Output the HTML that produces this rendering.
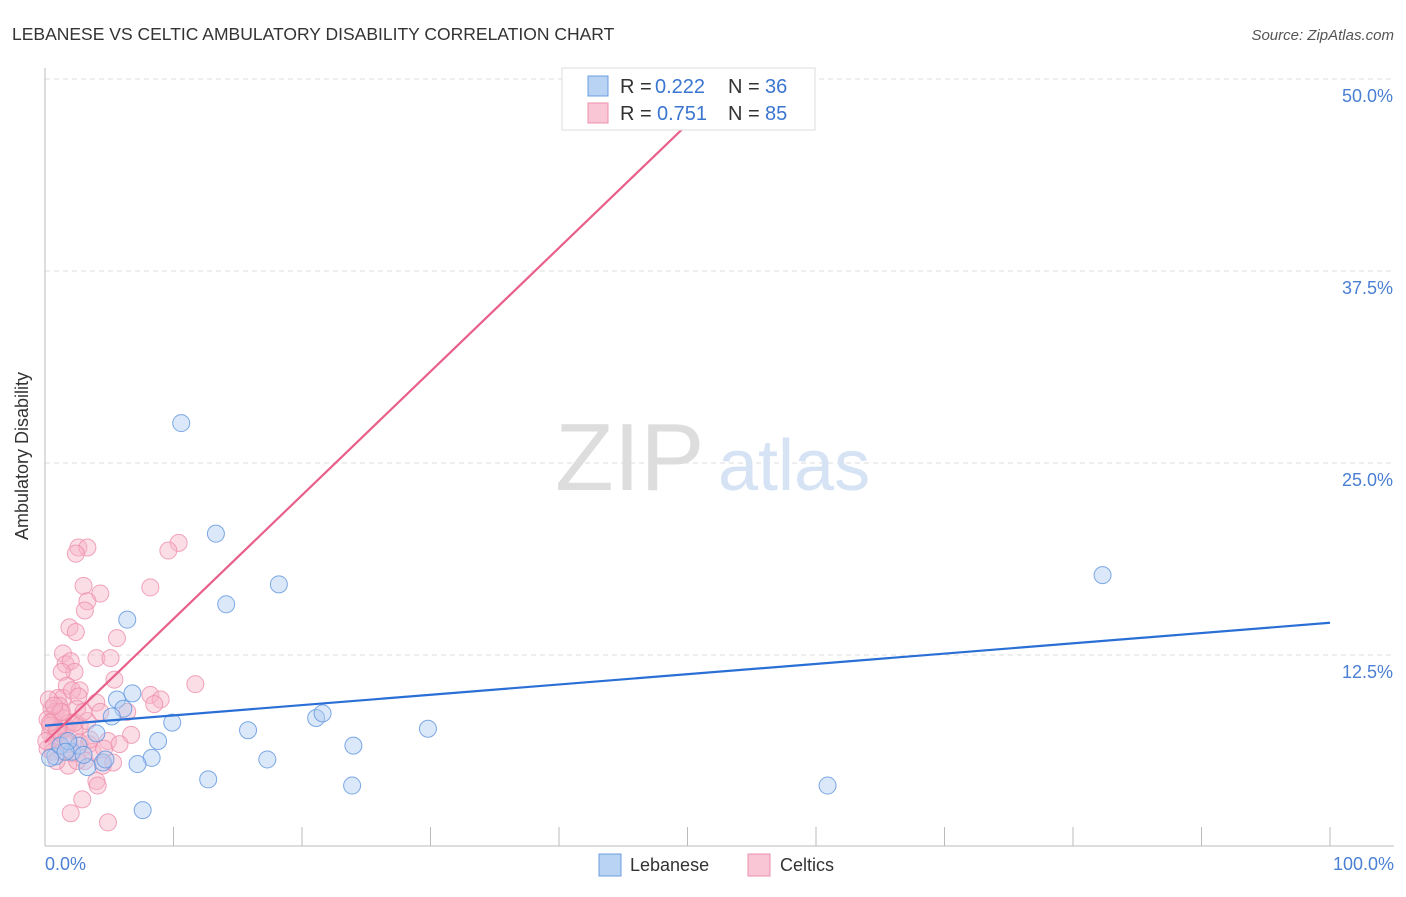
<!DOCTYPE html>
<html><head><meta charset="utf-8"><style>
body{margin:0;background:#fff;font-family:"Liberation Sans",sans-serif;}
svg text{font-family:"Liberation Sans",sans-serif;}
</style></head><body>
<svg width="1406" height="892" viewBox="0 0 1406 892">
<text x="12" y="40" font-size="17.5" fill="#333">LEBANESE VS CELTIC AMBULATORY DISABILITY CORRELATION CHART</text>
<text x="1394" y="40" font-size="15" fill="#555" text-anchor="end" font-style="italic">Source: ZipAtlas.com</text>
<g id="grid"></g>
<line x1="45" y1="68" x2="45" y2="846" stroke="#bbb"/>
<line x1="45" y1="846" x2="1394" y2="846" stroke="#bbb"/>
<g id="xticks"></g>
<text x="28" y="456" font-size="18" fill="#333" text-anchor="middle" transform="rotate(-90 28 456)">Ambulatory Disability</text>
<text x="45" y="870" font-size="18" fill="#4a7fd4">0.0%</text>
<text x="1394" y="870" font-size="18" fill="#4a7fd4" text-anchor="end">100.0%</text>
<g>
<text x="555" y="490" font-size="96" fill="#ddd" font-family="Liberation Serif,serif">ZIP</text>
<text x="718" y="490" font-size="72" fill="#d6e3f5">atlas</text>
</g>
<g id="pts"></g>
<g id="lines"></g>
<g>
<rect x="562" y="68" width="253" height="62" fill="#fff" stroke="#ddd"/>
<rect x="588" y="76" width="20" height="20" fill="#b9d3f5" stroke="#6c9ee0"/>
<rect x="588" y="103" width="20" height="20" fill="#f9c6d5" stroke="#ee8fab"/>
<text y="93" font-size="20" fill="#333"><tspan x="620">R =</tspan><tspan x="655" fill="#3a75d0">0.222</tspan><tspan x="728">N =</tspan><tspan x="765" fill="#3a75d0">36</tspan></text>
<text y="120" font-size="20" fill="#333"><tspan x="620">R =</tspan><tspan x="657" fill="#3a75d0">0.751</tspan><tspan x="728">N =</tspan><tspan x="765" fill="#3a75d0">85</tspan></text>
</g>
<g>
<rect x="599" y="854" width="22" height="22" fill="#b9d3f5" stroke="#6c9ee0"/>
<text x="630" y="871" font-size="18" fill="#333">Lebanese</text>
<rect x="748" y="854" width="22" height="22" fill="#f9c6d5" stroke="#ee8fab"/>
<text x="780" y="871" font-size="18" fill="#333">Celtics</text>
</g>
</svg>
<script>
const yTicks=[12.5,25,37.5,50];
const yTickLabels=["12.5%","25.0%","37.5%","50.0%"];
const xTicks=[0,10,20,30,40,50,60,70,80,90,100];
const lebX=[10.6,13.3,18.2,14.1,6.4,82.3,6.8,5.6,6.1,5.2,9.9,15.8,21.1,21.6,29.8,24.0,8.8,8.3,7.2,4.0,17.3,12.7,23.9,60.9,7.6,4.5,3.3,2.1,0.8,0.4,1.2,2.6,1.8,4.7,3.0,1.6];
const lebY=[27.6,20.4,17.1,15.8,14.8,17.7,10.0,9.6,9.0,8.5,8.1,7.6,8.4,8.7,7.7,6.6,6.9,5.8,5.4,7.4,5.7,4.4,4.0,4.0,2.4,5.5,5.2,6.2,5.9,5.8,6.6,6.6,6.9,5.7,6.0,6.2];
const celX=[2.6,3.3,2.4,10.4,9.6,3.0,4.3,8.2,3.3,3.1,1.9,2.4,5.6,1.4,1.6,2.0,2.3,4.0,5.1,1.3,11.7,1.7,2.7,1.0,1.4,2.1,2.6,4.0,8.2,9.0,8.5,5.4,2.5,1.1,0.5,0.8,1.2,0.2,0.6,1.4,1.9,2.7,3.3,4.3,6.4,0.4,0.8,1.2,1.6,2.3,0.2,0.6,1.3,1.9,2.7,3.4,3.7,4.9,6.7,1.8,3.1,4.5,5.3,4.0,4.1,2.9,2.0,4.9,0.4,0.9,0.1,1.0,1.6,2.1,2.5,3.5,4.6,5.8,0.9,0.4,1.3,2.3,3.0,0.3,0.7];
const celY=[19.5,19.5,19.1,19.8,19.3,17.0,16.5,16.9,16.0,15.4,14.3,14.0,13.6,12.6,11.9,12.1,11.4,12.3,12.3,11.4,10.6,10.5,10.2,9.7,9.7,10.2,9.8,9.4,9.9,9.6,9.3,10.9,9.0,9.2,9.0,8.8,8.8,8.3,8.2,8.4,8.1,7.9,8.2,8.8,8.8,7.4,7.1,7.4,7.7,7.6,6.4,6.2,6.2,6.7,6.8,6.7,6.2,6.9,7.3,5.3,5.6,5.3,5.5,4.3,4.0,3.1,2.2,1.6,7.9,7.5,6.9,7.6,6.9,6.1,5.6,7.0,6.4,6.7,5.6,8.1,8.8,8.1,8.8,9.6,9.2];
const lebFit=[7.9,14.6];
const celFit=[6.8,46.9];
const celFitX=[0,49.8];
const X=v=>45+v*12.85, Y=v=>847-v*15.36;
const NS="http://www.w3.org/2000/svg";
const g=document.getElementById('grid');
yTicks.forEach((t,i)=>{
 const l=document.createElementNS(NS,'line');
 
 
 l.setAttribute('x1',45);l.setAttribute('x2',1394);l.setAttribute('y1',Y(t));l.setAttribute('y2',Y(t));
 l.setAttribute('stroke','#ddd');l.setAttribute('stroke-dasharray','5,4');g.appendChild(l);
 const tx=document.createElementNS(NS,'text');
 
 
 tx.setAttribute('x',1393);tx.setAttribute('y',Y(t)+23);tx.setAttribute('text-anchor','end');
 tx.setAttribute('font-size','18');tx.setAttribute('fill','#4a7fd4');tx.textContent=yTickLabels[i];g.appendChild(tx);
});
const xt=document.getElementById('xticks');
xTicks.forEach(t=>{
 const l=document.createElementNS(NS,'line');
 
 
 l.setAttribute('x1',X(t));l.setAttribute('x2',X(t));l.setAttribute('y1',827);l.setAttribute('y2',846);
 l.setAttribute('stroke','#bbb');xt.appendChild(l);
});
const p=document.getElementById('pts');
function dot(x,y,fill,stroke,name){
 const c=document.createElementNS(NS,'circle');
 
 
 c.setAttribute('cx',X(x));c.setAttribute('cy',Y(y));c.setAttribute('r',8.5);
 c.setAttribute('fill',fill);c.setAttribute('fill-opacity','0.45');c.setAttribute('stroke',stroke);c.setAttribute('stroke-opacity','0.8');
 p.appendChild(c);
}
celX.forEach((x,i)=>dot(x,celY[i],'#f7b3c7','#ee8fab','celtics-point'));
lebX.forEach((x,i)=>dot(x,lebY[i],'#b0ccf2','#5f95de','lebanese-point'));
const lg=document.getElementById('lines');
function line(x1,y1,x2,y2,col,name){
 const l=document.createElementNS(NS,'line');
 
 
 l.setAttribute('x1',X(x1));l.setAttribute('y1',Y(y1));l.setAttribute('x2',X(x2));l.setAttribute('y2',Y(y2));
 l.setAttribute('stroke',col);l.setAttribute('stroke-width','2.2');lg.appendChild(l);
}
line(0,lebFit[0],100,lebFit[1],'#2a6fd6','lebanese-trend-line');
line(celFitX[0],celFit[0],celFitX[1],celFit[1],'#e8608a','celtics-trend-line');
</script>
</body></html>
